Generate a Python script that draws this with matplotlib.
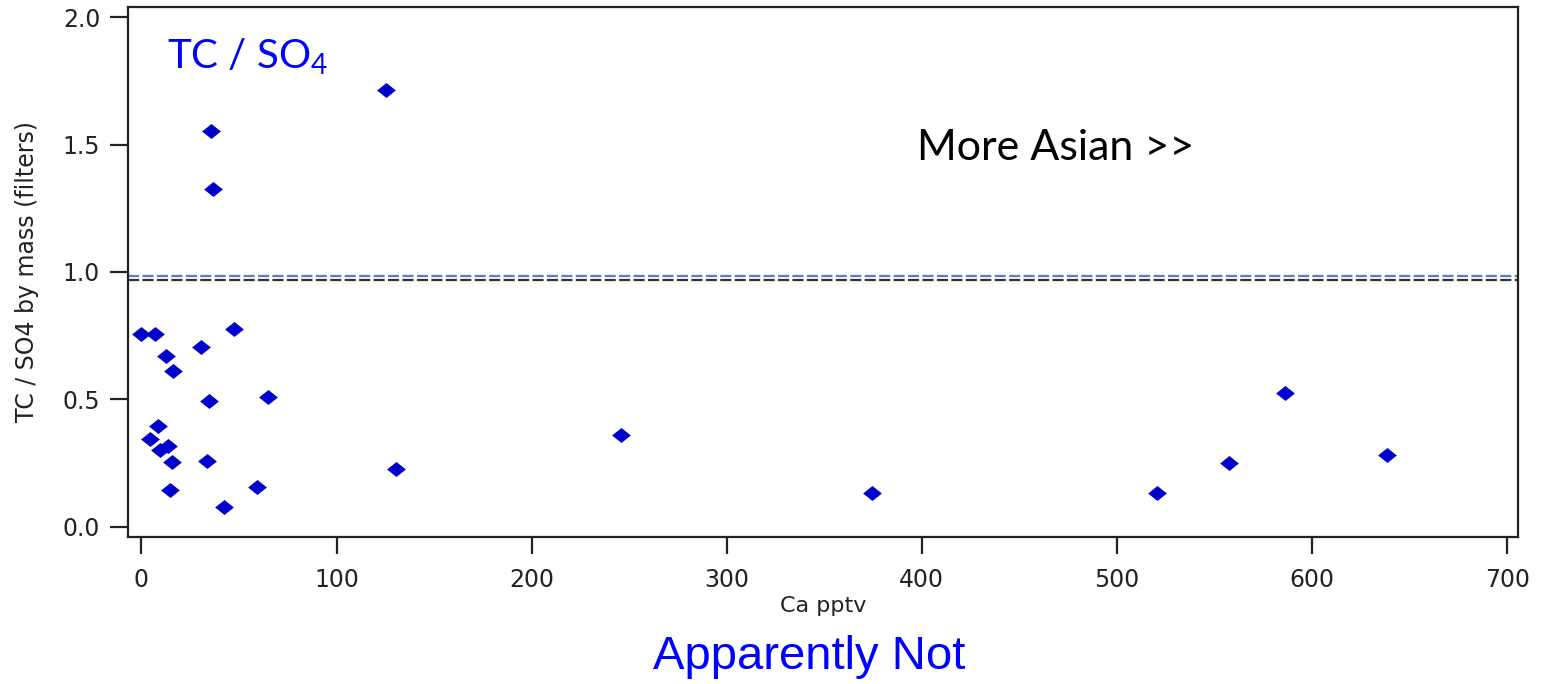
import numpy as np
import matplotlib
matplotlib.use("Agg")
import matplotlib.pyplot as plt
from matplotlib.path import Path

# Ca (pptv) vs TC/SO4 ratio
ca_pptv = [0.0, 6.8, 12.8, 30.8, 47.4, 16.4, 34.9, 64.9, 8.7, 4.6, 9.4, 13.8,
           15.5, 33.6, 14.6, 59.5, 42.4, 130.5, 125.4, 35.5, 36.8, 245.9, 374.6,
           520.7, 557.6, 586.1, 638.4]
tc_so4 = [0.755, 0.755, 0.669, 0.706, 0.776, 0.612, 0.494, 0.508, 0.395, 0.346,
          0.302, 0.318, 0.255, 0.259, 0.143, 0.156, 0.077, 0.225, 1.715, 1.554,
          1.325, 0.361, 0.131, 0.131, 0.252, 0.524, 0.283]

xticks = [0, 100, 200, 300, 400, 500, 600, 700]
yticks = [0.0, 0.5, 1.0, 1.5, 2.0]
blue_line = 0.984
black_line = 0.969

plt.rcParams['mathtext.default'] = 'regular'

fig = plt.figure(figsize=(15.45, 6.84), dpi=100)
ax = fig.add_axes([0.0828, 0.2149, 0.8997, 0.7749])

# wide diamond marker
diamond = Path([(-1, 0), (0, 0.8), (1, 0), (0, -0.8), (-1, 0)],
               [Path.MOVETO, Path.LINETO, Path.LINETO, Path.LINETO, Path.CLOSEPOLY])
ax.plot(ca_pptv, tc_so4, linestyle='none', marker=diamond, markersize=13.5,
        color='#0000cc', markeredgewidth=0, zorder=3)

ax.axhline(blue_line, color='#4f81bd', linewidth=1.6, dashes=(5, 1.5))
ax.axhline(black_line, color='#333333', linewidth=1.6, dashes=(5, 1.5))

ax.set_xlim(-6.9, 705.5)
ax.set_ylim(-0.04, 2.04)
ax.set_xticks(xticks)
ax.set_yticks(yticks)
ax.set_xticklabels([str(t) for t in xticks])
ax.set_yticklabels([f"{t:.1f}" for t in yticks])

for s in ax.spines.values():
    s.set_linewidth(1.6)
    s.set_color('#222222')
ax.tick_params(axis='x', direction='out', length=12, width=1.6, pad=10,
               labelsize=17, colors='#222222')
ax.tick_params(axis='y', direction='out', length=13, width=1.6, pad=7,
               labelsize=17, colors='#222222')

ax.set_xlabel("Ca pptv", fontsize=16, color='#222222', labelpad=3)
ax.set_ylabel("TC / SO4 by mass (filters)", fontsize=17, color='#222222', labelpad=17)

ax.text(0.028, 0.905, "TC / SO$_4$", transform=ax.transAxes, fontsize=29,
        color='#0000ff', family='Lato', ha='left', va='center')
ax.text(0.568, 0.733, "More Asian >>", transform=ax.transAxes, fontsize=31,
        color='black', family='Lato', ha='left', va='center')

fig.text(0.524, 0.04, "Apparently Not", fontsize=34, color='#0000ff',
         family='Liberation Sans', ha='center', va='center')

fig.savefig("out.png", dpi=100)
